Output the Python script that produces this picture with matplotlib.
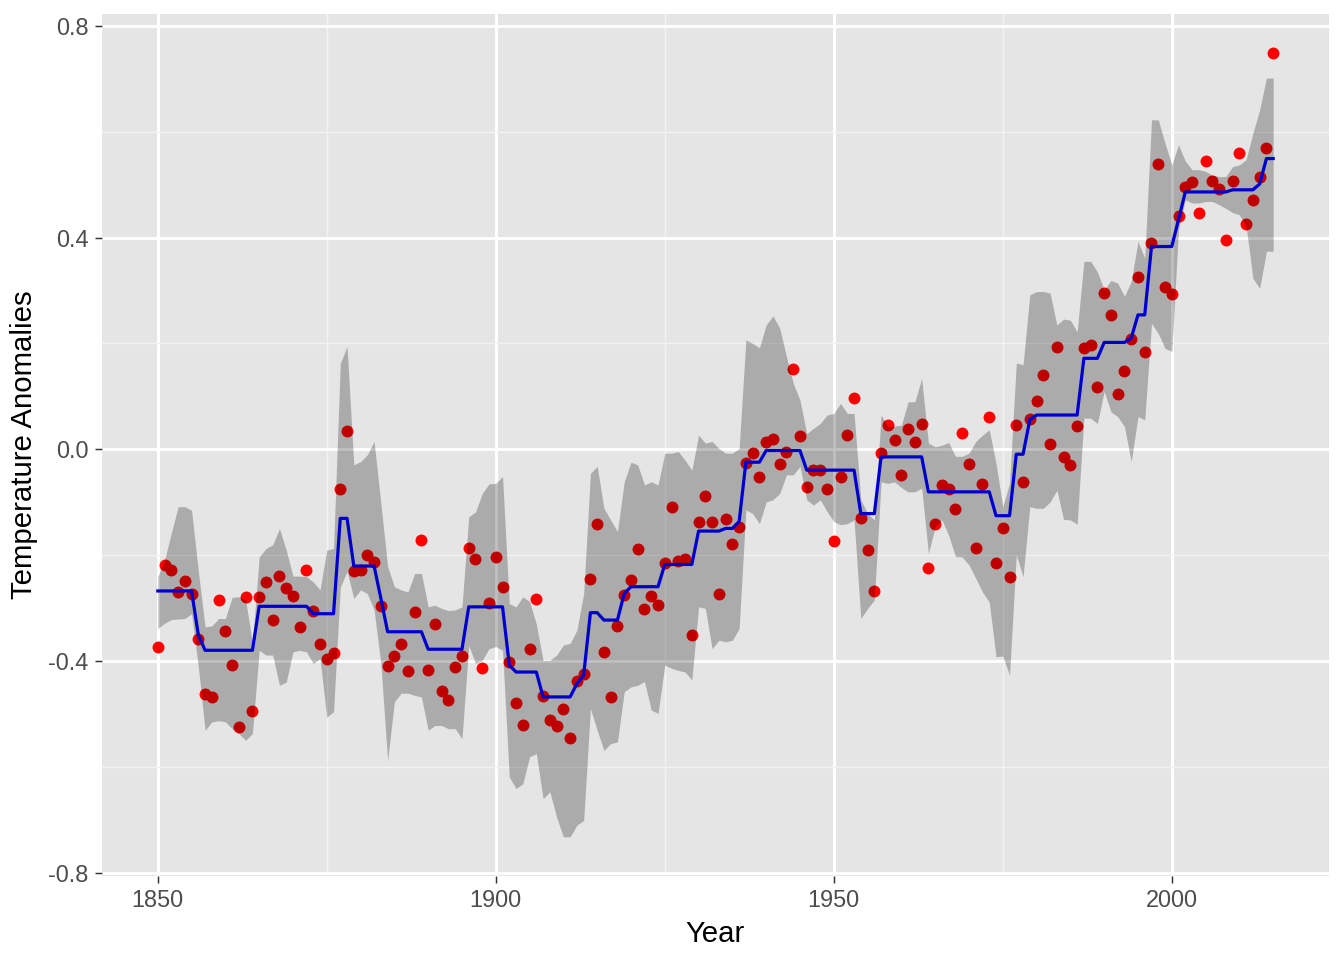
import numpy as np
import matplotlib
matplotlib.use("Agg")
import matplotlib.pyplot as plt
from matplotlib.ticker import MultipleLocator, FuncFormatter

years = np.arange(1850, 2016)

# annual anomalies (points)
anomaly = [
    -0.373, -0.218, -0.228, -0.269, -0.248, -0.272, -0.358, -0.461, -0.467, -0.284,
    -0.343, -0.407, -0.524, -0.278, -0.494, -0.279, -0.251, -0.321, -0.238, -0.262,
    -0.276, -0.335, -0.227, -0.304, -0.368, -0.395, -0.384, -0.075, 0.035, -0.230,
    -0.227, -0.200, -0.213, -0.296, -0.409, -0.389, -0.367, -0.418, -0.307, -0.171,
    -0.416, -0.330, -0.455, -0.473, -0.410, -0.390, -0.186, -0.206, -0.412, -0.289,
    -0.203, -0.259, -0.402, -0.479, -0.520, -0.377, -0.283, -0.465, -0.511, -0.522,
    -0.490, -0.544, -0.437, -0.424, -0.244, -0.141, -0.383, -0.468, -0.333, -0.275,
    -0.247, -0.187, -0.302, -0.276, -0.294, -0.215, -0.108, -0.210, -0.206, -0.350,
    -0.137, -0.087, -0.137, -0.273, -0.131, -0.178, -0.147, -0.026, -0.006, -0.052,
    0.014, 0.020, -0.027, -0.004, 0.152, 0.025, -0.071, -0.038, -0.039, -0.074,
    -0.173, -0.052, 0.028, 0.097, -0.129, -0.190, -0.267, -0.007, 0.046, 0.017,
    -0.049, 0.038, 0.014, 0.048, -0.223, -0.140, -0.068, -0.074, -0.113, 0.032,
    -0.027, -0.186, -0.065, 0.062, -0.214, -0.149, -0.241, 0.047, -0.062, 0.057,
    0.092, 0.140, 0.011, 0.194, -0.014, -0.030, 0.045, 0.192, 0.198, 0.118,
    0.296, 0.254, 0.105, 0.148, 0.208, 0.325, 0.183, 0.390, 0.539, 0.306,
    0.294, 0.441, 0.496, 0.505, 0.447, 0.545, 0.506, 0.491, 0.395, 0.506,
    0.560, 0.425, 0.470, 0.514, 0.569, 0.748,
]

# fitted segment means (blue line)
fit = [
    -0.267, -0.267, -0.267, -0.267, -0.267, -0.267, -0.350, -0.379, -0.379, -0.379,
    -0.379, -0.379, -0.379, -0.379, -0.379, -0.296, -0.296, -0.296, -0.296, -0.296,
    -0.296, -0.296, -0.296, -0.310, -0.310, -0.310, -0.310, -0.130, -0.130, -0.220,
    -0.220, -0.220, -0.220, -0.281, -0.344, -0.344, -0.344, -0.344, -0.344, -0.344,
    -0.377, -0.377, -0.377, -0.377, -0.377, -0.377, -0.297, -0.297, -0.297, -0.297,
    -0.297, -0.297, -0.407, -0.420, -0.420, -0.420, -0.420, -0.467, -0.467, -0.467,
    -0.467, -0.467, -0.442, -0.426, -0.308, -0.308, -0.322, -0.322, -0.322, -0.272,
    -0.259, -0.259, -0.259, -0.259, -0.259, -0.217, -0.217, -0.217, -0.217, -0.217,
    -0.154, -0.154, -0.154, -0.154, -0.149, -0.149, -0.136, -0.024, -0.024, -0.024,
    -0.002, -0.002, -0.002, -0.002, -0.002, -0.002, -0.039, -0.039, -0.039, -0.039,
    -0.039, -0.039, -0.039, -0.039, -0.121, -0.121, -0.121, -0.014, -0.014, -0.014,
    -0.014, -0.014, -0.014, -0.014, -0.080, -0.080, -0.080, -0.080, -0.080, -0.080,
    -0.080, -0.080, -0.080, -0.080, -0.125, -0.125, -0.125, -0.009, -0.009, 0.056,
    0.065, 0.065, 0.065, 0.065, 0.065, 0.065, 0.065, 0.172, 0.172, 0.172,
    0.202, 0.202, 0.202, 0.202, 0.210, 0.254, 0.254, 0.383, 0.383, 0.383,
    0.383, 0.434, 0.486, 0.486, 0.486, 0.486, 0.486, 0.486, 0.486, 0.490,
    0.490, 0.490, 0.490, 0.501, 0.549, 0.549,
]

# band bounds
lower = [
    -0.338, -0.328, -0.321, -0.320, -0.319, -0.310, -0.410, -0.530, -0.514, -0.512,
    -0.514, -0.527, -0.536, -0.549, -0.536, -0.379, -0.388, -0.388, -0.445, -0.439,
    -0.382, -0.379, -0.382, -0.404, -0.395, -0.505, -0.495, -0.260, -0.230, -0.281,
    -0.265, -0.272, -0.303, -0.404, -0.587, -0.476, -0.460, -0.460, -0.464, -0.467,
    -0.530, -0.521, -0.521, -0.527, -0.527, -0.546, -0.370, -0.404, -0.398, -0.376,
    -0.372, -0.379, -0.618, -0.640, -0.631, -0.580, -0.574, -0.659, -0.646, -0.694,
    -0.731, -0.731, -0.709, -0.700, -0.489, -0.530, -0.568, -0.555, -0.552, -0.457,
    -0.448, -0.445, -0.438, -0.492, -0.498, -0.407, -0.413, -0.417, -0.420, -0.435,
    -0.297, -0.300, -0.376, -0.360, -0.363, -0.360, -0.338, -0.114, -0.121, -0.140,
    -0.099, -0.095, -0.083, -0.048, -0.048, -0.032, -0.095, -0.105, -0.095, -0.117,
    -0.136, -0.142, -0.140, -0.133, -0.319, -0.300, -0.284, -0.061, -0.064, -0.061,
    -0.072, -0.080, -0.080, -0.073, -0.196, -0.146, -0.133, -0.162, -0.202, -0.203,
    -0.218, -0.243, -0.269, -0.288, -0.391, -0.390, -0.426, -0.199, -0.240, -0.108,
    -0.111, -0.111, -0.099, -0.077, -0.132, -0.133, -0.141, 0.059, 0.059, 0.049,
    0.110, 0.071, 0.062, 0.043, -0.023, 0.062, 0.056, 0.238, 0.219, 0.191,
    0.185, 0.415, 0.471, 0.465, 0.465, 0.468, 0.468, 0.462, 0.455, 0.447,
    0.443, 0.421, 0.323, 0.304, 0.374, 0.374,
]

upper = [
    -0.240, -0.209, -0.158, -0.108, -0.108, -0.115, -0.230, -0.335, -0.333, -0.319,
    -0.319, -0.279, -0.278, -0.284, -0.366, -0.203, -0.187, -0.180, -0.149, -0.190,
    -0.239, -0.239, -0.240, -0.250, -0.265, -0.190, -0.187, 0.163, 0.194, -0.029,
    -0.023, -0.010, 0.015, -0.102, -0.221, -0.259, -0.265, -0.269, -0.234, -0.234,
    -0.297, -0.294, -0.300, -0.304, -0.303, -0.297, -0.127, -0.118, -0.083, -0.065,
    -0.064, -0.051, -0.291, -0.297, -0.278, -0.287, -0.330, -0.398, -0.398, -0.388,
    -0.369, -0.366, -0.341, -0.272, -0.045, -0.032, -0.111, -0.133, -0.155, -0.061,
    -0.024, -0.029, -0.067, -0.061, -0.067, -0.007, -0.007, -0.004, -0.020, -0.039,
    0.027, 0.012, 0.015, 0.002, -0.007, -0.007, 0.002, 0.207, 0.200, 0.192,
    0.235, 0.252, 0.229, 0.175, 0.125, 0.093, 0.030, 0.040, 0.049, 0.065,
    0.068, 0.087, 0.068, 0.068, -0.095, -0.121, -0.133, 0.065, 0.043, 0.044,
    0.046, 0.090, 0.090, 0.134, 0.012, 0.005, 0.008, 0.013, -0.013, -0.013,
    -0.007, 0.015, 0.027, 0.037, -0.026, -0.108, -0.064, 0.163, 0.160, 0.292,
    0.298, 0.298, 0.295, 0.235, 0.246, 0.244, 0.222, 0.355, 0.355, 0.335,
    0.301, 0.319, 0.314, 0.289, 0.317, 0.393, 0.361, 0.622, 0.622, 0.578,
    0.537, 0.575, 0.544, 0.528, 0.528, 0.525, 0.518, 0.515, 0.515, 0.534,
    0.537, 0.547, 0.597, 0.641, 0.701, 0.701,
]

plt.rcParams['font.family'] = ['Liberation Sans', 'DejaVu Sans']
plt.rcParams['axes.unicode_minus'] = False

fig = plt.figure(figsize=(7, 5), dpi=192)
ax = fig.add_axes([0.0759, 0.0875, 0.9129, 0.898])
ax.set_facecolor('#E5E5E5')
for s in ax.spines.values():
    s.set_visible(False)

# points first, then the translucent band over them, then the fit
ax.scatter(years, anomaly, s=20, color='red', linewidths=0, zorder=3)
ax.fill_between(years, lower, upper, color='black', alpha=0.25, linewidth=0, zorder=4)
ax.plot(years, fit, color='#0000CD', lw=1.2, zorder=5)

# ggplot-like expansion of 5%
x0, x1 = years.min(), years.max()
y0 = min(min(lower), min(anomaly))
y1 = max(max(upper), max(anomaly))
ax.set_xlim(x0 - 0.05 * (x1 - x0), x1 + 0.05 * (x1 - x0))
ax.set_ylim(y0 - 0.05 * (y1 - y0), y1 + 0.05 * (y1 - y0))

ax.xaxis.set_major_locator(MultipleLocator(50))
ax.xaxis.set_minor_locator(MultipleLocator(25))
ax.yaxis.set_major_locator(MultipleLocator(0.4))
ax.yaxis.set_minor_locator(MultipleLocator(0.2))
ax.yaxis.set_major_formatter(FuncFormatter(lambda v, p: f"{v:.1f}"))

ax.set_axisbelow(True)
ax.grid(which='major', color='white', lw=1.1)
ax.grid(which='minor', color='#F2F2F2', lw=0.55)
ax.tick_params(which='major', length=2.75, width=0.55, color='#333333',
               labelcolor='#4D4D4D', labelsize=8.8, pad=2.2)
ax.tick_params(which='minor', length=0)

ax.set_xlabel('Year', fontsize=11, labelpad=3)
ax.set_ylabel('Temperature Anomalies', fontsize=11, labelpad=4)

fig.savefig('out.png', dpi=192)
